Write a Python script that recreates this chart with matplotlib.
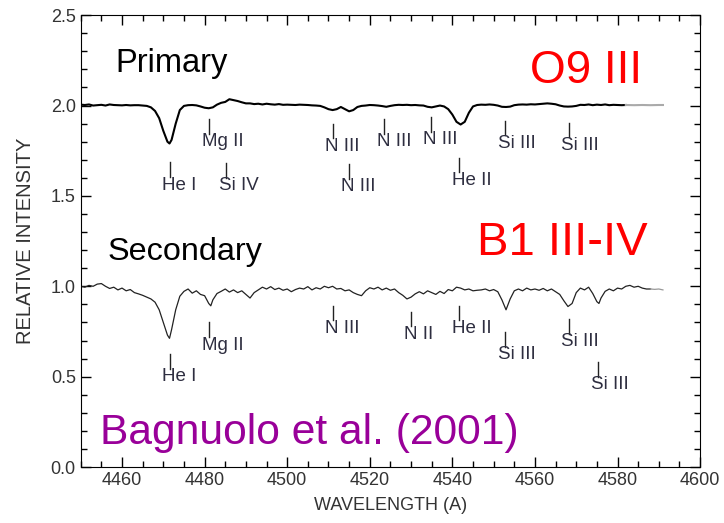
import numpy as np
import matplotlib
matplotlib.use('Agg')
import matplotlib.pyplot as plt
from matplotlib.ticker import MultipleLocator, FormatStrFormatter

plt.rcParams['font.family'] = ['Liberation Sans', 'DejaVu Sans']

# espectro de la primaria (O9 III), desplazado +1
wl_prim = [4450, 4451, 4452, 4453, 4454, 4455, 4456, 4457, 4458, 4459,
           4460, 4461, 4462, 4463, 4464, 4465, 4466, 4467, 4468, 4469,
           4470, 4471, 4471.5, 4472, 4473, 4474, 4475, 4476, 4477, 4478,
           4479, 4480, 4481, 4482, 4483, 4484, 4485, 4486, 4487, 4488,
           4489, 4490, 4491, 4492, 4493, 4494, 4495, 4496, 4497, 4498,
           4499, 4500, 4501, 4502, 4503, 4504, 4505, 4506, 4507, 4508,
           4509, 4510, 4511, 4512, 4513, 4514, 4515, 4516, 4517, 4518,
           4519, 4520, 4521, 4522, 4523, 4524, 4525, 4526, 4527, 4528,
           4529, 4530, 4531, 4532, 4533, 4534, 4535, 4536, 4537, 4538,
           4539, 4540, 4541, 4542, 4543, 4544, 4545, 4546, 4547, 4548,
           4549, 4550, 4551, 4552, 4553, 4554, 4555, 4556, 4557, 4558,
           4559, 4560, 4561, 4562, 4563, 4564, 4565, 4566, 4567, 4568,
           4569, 4570, 4571, 4572, 4573, 4574, 4575, 4576, 4577, 4578,
           4579, 4580, 4581, 4582]
fl_prim = [2.005, 2.003, 2.006, 2.000, 2.002, 2.004, 2.000, 2.006, 2.003, 2.002,
           2.001, 2.003, 2.001, 2.002, 2.002, 2.000, 1.998, 1.990, 1.970, 1.930,
           1.860, 1.800, 1.790, 1.810, 1.900, 1.975, 1.998, 2.002, 2.003, 2.001,
           1.995, 1.988, 1.985, 1.990, 2.005, 2.015, 2.020, 2.035, 2.030, 2.025,
           2.018, 2.012, 2.012, 2.008, 2.010, 2.006, 2.010, 2.007, 2.005, 2.008,
           2.004, 2.005, 2.004, 2.003, 2.005, 2.004, 2.003, 2.001, 2.000, 1.998,
           1.990, 1.980, 1.975, 1.980, 1.992, 1.980, 1.968, 1.975, 1.992, 1.998,
           2.000, 2.003, 2.002, 2.000, 1.997, 1.993, 1.998, 2.002, 2.004, 2.003,
           2.004, 2.002, 2.003, 2.001, 2.000, 1.993, 1.990, 1.995, 2.000, 1.995,
           1.980, 1.950, 1.910, 1.895, 1.910, 1.960, 1.995, 2.003, 2.005, 2.004,
           2.006, 2.004, 2.000, 1.993, 1.992, 1.994, 2.002, 2.005, 2.006, 2.005,
           2.007, 2.006, 2.008, 2.010, 2.012, 2.010, 2.007, 2.000, 1.995, 1.994,
           1.995, 1.998, 2.004, 2.003, 2.006, 2.002, 2.005, 2.003, 2.006, 2.002,
           2.004, 2.003, 2.002, 2.003]
# cola gris del espectro primario
wl_prim_tail = [4582, 4584, 4586, 4588, 4590, 4591]
fl_prim_tail = [2.003, 2.002, 2.003, 2.002, 2.003, 2.003]

# espectro de la secundaria (B1 III-IV)
wl_sec = [4450, 4451, 4452, 4453, 4454, 4455, 4456, 4457, 4458, 4459,
          4460, 4461, 4462, 4463, 4464, 4465, 4466, 4467, 4468, 4469,
          4470, 4471, 4471.5, 4472, 4473, 4474, 4475, 4476, 4477, 4478,
          4479, 4480, 4481, 4481.5, 4482, 4483, 4484, 4485, 4486, 4487,
          4488, 4489, 4490, 4491, 4492, 4493, 4494, 4495, 4496, 4497,
          4498, 4499, 4500, 4501, 4502, 4503, 4504, 4505, 4506, 4507,
          4508, 4509, 4510, 4511, 4512, 4513, 4514, 4515, 4516, 4517,
          4518, 4519, 4520, 4521, 4522, 4523, 4524, 4525, 4526, 4527,
          4528, 4529, 4530, 4531, 4532, 4533, 4534, 4535, 4536, 4537,
          4538, 4539, 4540, 4541, 4542, 4543, 4544, 4545, 4546, 4547,
          4548, 4549, 4550, 4551, 4552, 4553, 4554, 4555, 4556, 4557,
          4558, 4559, 4560, 4561, 4562, 4563, 4564, 4565, 4566, 4567,
          4568, 4569, 4570, 4571, 4572, 4573, 4574, 4575, 4575.5, 4576,
          4577, 4578, 4579, 4580, 4581, 4582, 4583, 4584, 4585, 4586,
          4587, 4588]
fl_sec = [1.000, 0.995, 1.005, 1.000, 1.012, 1.015, 1.000, 0.988, 0.995, 0.980,
          0.990, 0.975, 0.982, 0.965, 0.958, 0.950, 0.940, 0.930, 0.912, 0.870,
          0.800, 0.730, 0.712, 0.760, 0.870, 0.945, 0.972, 0.985, 0.962, 0.975,
          0.955, 0.948, 0.905, 0.892, 0.925, 0.960, 0.972, 0.985, 0.968, 0.980,
          0.965, 0.975, 0.955, 0.935, 0.965, 0.980, 0.995, 0.985, 0.998, 0.982,
          0.990, 0.978, 0.985, 0.970, 0.982, 0.990, 0.985, 0.998, 0.980, 0.992,
          0.985, 1.000, 0.992, 1.000, 0.985, 0.988, 0.975, 0.980, 0.965, 0.955,
          0.948, 0.975, 0.992, 0.985, 0.995, 0.980, 0.990, 0.978, 0.985, 0.965,
          0.950, 0.930, 0.940, 0.958, 0.970, 0.958, 0.975, 0.965, 0.955, 0.972,
          0.960, 0.982, 0.975, 0.995, 0.990, 0.980, 0.985, 0.975, 0.978, 0.980,
          0.985, 0.975, 0.982, 0.970, 0.925, 0.870, 0.930, 0.975, 0.985, 0.975,
          0.990, 0.980, 0.985, 0.978, 0.988, 0.975, 0.985, 0.970, 0.955, 0.920,
          0.888, 0.905, 0.965, 0.990, 0.980, 0.995, 0.960, 0.915, 0.905, 0.935,
          0.972, 0.985, 0.975, 0.990, 0.985, 1.000, 1.005, 0.995, 1.000, 0.990,
          0.985, 0.985]
wl_sec_tail = [4588, 4589, 4590, 4591]
fl_sec_tail = [0.985, 0.983, 0.985, 0.980]

# identificacion de lineas
prim_names = ['He I', 'Mg II', 'Si IV', 'N III', 'N III', 'N III', 'N III', 'He II', 'Si III', 'Si III']
prim_wl = [4471.5, 4481.1, 4485.3, 4511.0, 4514.9, 4523.5, 4534.8, 4541.7, 4552.8, 4568.2]
prim_ylab = [1.56, 1.80, 1.555, 1.775, 1.55, 1.80, 1.81, 1.585, 1.79, 1.78]

sec_names = ['He I', 'Mg II', 'N III', 'N II', 'He II', 'Si III', 'Si III', 'Si III']
sec_wl = [4471.5, 4481.1, 4511.0, 4530.0, 4541.7, 4552.8, 4568.2, 4575.3]
sec_ylab = [0.50, 0.675, 0.767, 0.735, 0.767, 0.62, 0.693, 0.454]

fig = plt.figure(figsize=(7.24, 5.23), dpi=100)
ax = fig.add_axes([0.1115, 0.107, 0.8555, 0.864])

ax.plot(wl_prim, fl_prim, color='black', lw=1.5)
ax.plot(wl_prim_tail, fl_prim_tail, color='#aaaaaa', lw=1.5)
ax.plot(wl_sec, fl_sec, color='#222222', lw=0.9)
ax.plot(wl_sec_tail, fl_sec_tail, color='#999999', lw=0.9)

lab_color = '#2e2e40'
for names, wls, ys in [(prim_names, prim_wl, prim_ylab), (sec_names, sec_wl, sec_ylab)]:
    for n, w, y in zip(names, wls, ys):
        ax.plot([w, w], [y + 0.045, y + 0.125], color='#222222', lw=1)
        ax.annotate(n, (w, y), xytext=(-7.5, 0), textcoords='offset pixels',
                    ha='left', va='center', fontsize=13.5, color=lab_color)

ax.text(4458.3, 2.23, 'Primary', fontsize=23.5, color='black', va='center')
ax.text(4456.6, 1.19, 'Secondary', fontsize=23.3, color='black', va='center')
ax.text(4558.8, 2.19, 'O9 III', fontsize=33, color='#ff0000', va='center')
ax.text(4546, 1.24, 'B1 III-IV', fontsize=34, color='#ff0000', va='center')
ax.text(4454.7, 0.19, 'Bagnuolo et al. (2001)', fontsize=30.7, color='#990099', va='center')

ax.set_xlim(4450, 4600)
ax.set_ylim(0, 2.5)
ax.xaxis.set_major_locator(MultipleLocator(20))
ax.xaxis.set_minor_locator(MultipleLocator(5))
ax.yaxis.set_major_locator(MultipleLocator(0.5))
ax.yaxis.set_minor_locator(MultipleLocator(0.1))
ax.yaxis.set_major_formatter(FormatStrFormatter('%.1f'))
ax.tick_params(which='both', direction='in', top=True, right=True,
               labelsize=13, labelcolor='#333333', width=1)
ax.tick_params(which='major', length=7)
ax.tick_params(which='minor', length=4)
ax.set_xlabel('WAVELENGTH (A)', fontsize=13, color='#333333', labelpad=6)
ax.set_ylabel('RELATIVE INTENSITY', fontsize=14.5, color='#333333', labelpad=11)

plt.savefig('out.png', dpi=100)
